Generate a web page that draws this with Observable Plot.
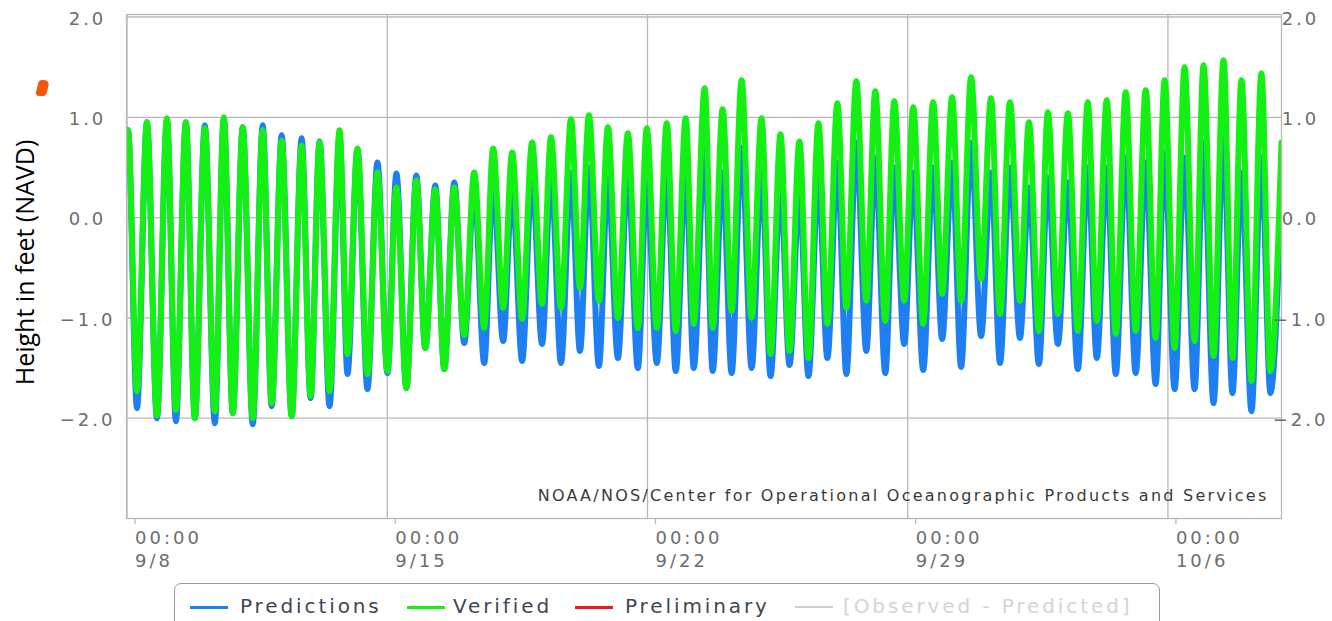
<!DOCTYPE html>
<html><head><meta charset="utf-8">
<script src="https://cdn.jsdelivr.net/npm/d3@7"></script>
<script src="https://cdn.jsdelivr.net/npm/@observablehq/plot@0.6"></script>
<style>
body{margin:0;background:#fff;width:1332px;height:621px;overflow:hidden;position:relative;font-family:"DejaVu Sans",sans-serif;}
#chart{position:absolute;left:0;top:0;}
#legend{position:absolute;left:174px;top:583px;width:986px;height:60px;border:1.5px solid #9a9a9a;border-radius:7px;box-sizing:border-box;background:#fff;}
.item{position:absolute;top:10px;font-size:20px;letter-spacing:2.9px;color:#3d4853;line-height:24px;white-space:nowrap;}
.sw{position:absolute;top:22px;height:3px;width:38px;}
#blob{position:absolute;left:37px;top:80px;width:11px;height:16px;background:#f2580c;border-radius:3px 6px 3px 4px;transform:skewX(-14deg);}
</style></head><body>
<div id="chart"></div>
<div id="blob"></div>
<div id="legend">
  <div class="sw" style="left:15px;background:#1e7ff2"></div><div class="item" style="left:65px">Predictions</div>
  <div class="sw" style="left:232px;background:#14f014"></div><div class="item" style="left:278px">Verified</div>
  <div class="sw" style="left:400px;background:#f01818"></div><div class="item" style="left:450px">Preliminary</div>
  <div class="sw" style="left:620px;background:#cfcfcf;height:2px"></div><div class="item" style="left:668px;color:#d4d4d4">[Observed - Predicted]</div>
</div>
<script>
// ---- data (heights in feet, NAVD) ----
const highTimes = ["9/8 00:39","9/8 12:53","9/9 01:46","9/9 14:00","9/10 02:14","9/10 14:29","9/11 02:43","9/11 15:36","9/12 03:50","9/12 16:43","9/13 04:19","9/13 17:12","9/14 04:47","9/14 17:40","9/15 05:55","9/15 18:47","9/16 07:02","9/16 19:16","9/17 08:09","9/17 20:23","9/18 08:38","9/18 21:31","9/19 09:45","9/19 22:38","9/20 10:14","9/20 22:28","9/21 11:21","9/21 23:35","9/22 12:28","9/23 00:43","9/23 12:57","9/24 00:32","9/24 12:47","9/25 01:40","9/25 13:54","9/26 02:08","9/26 14:23","9/27 02:37","9/27 14:51","9/28 03:05","9/28 15:20","9/29 03:34","9/29 16:27","9/30 04:41","9/30 16:56","10/1 05:49","10/1 18:03","10/2 06:17","10/2 18:31","10/3 07:25","10/3 20:17","10/4 08:32","10/4 20:46","10/5 09:39","10/5 21:53","10/6 10:46","10/6 23:01","10/7 11:53","10/7 23:29","10/8 12:22"];
const lowTimes = ["9/8 06:26","9/8 19:19","9/9 07:34","9/9 19:48","9/10 08:41","9/10 20:17","9/11 09:10","9/11 21:24","9/12 10:17","9/12 22:31","9/13 10:46","9/13 22:21","9/14 11:14","9/15 00:07","9/15 12:21","9/16 00:35","9/16 12:50","9/17 01:43","9/17 14:35","9/18 02:50","9/18 15:04","9/19 03:57","9/19 16:11","9/20 04:26","9/20 16:40","9/21 04:55","9/21 17:47","9/22 06:02","9/22 18:16","9/23 05:52","9/23 18:06","9/24 06:20","9/24 19:13","9/25 07:28","9/25 19:42","9/26 07:56","9/26 20:10","9/27 08:25","9/27 21:17","9/28 09:32","9/28 21:46","9/29 10:01","9/29 22:15","9/30 10:29","9/30 23:22","10/1 11:37","10/2 00:29","10/2 12:44","10/3 00:58","10/3 13:51","10/4 02:05","10/4 14:20","10/5 03:13","10/5 16:05","10/6 04:20","10/6 17:13","10/7 05:27","10/7 17:41","10/8 05:56","10/8 18:10"];
const predHigh = [0.87,0.95,0.97,0.95,0.92,0.98,0.90,0.92,0.82,0.79,
  0.76,0.80,0.68,0.55,0.44,0.42,0.32,0.35,0.30,0.35,
  0.30,0.40,0.43,0.45,0.50,0.40,0.45,0.35,0.50,0.50,
  0.70,0.45,0.70,0.45,0.30,0.25,0.40,0.55,0.75,0.60,
  0.50,0.45,0.50,0.55,0.75,0.45,0.50,0.30,0.40,0.35,
  0.50,0.50,0.60,0.55,0.65,0.60,0.75,0.80,0.45,0.60];
const verHigh = [0.87,0.95,0.99,0.95,0.89,1.00,0.90,0.87,0.77,0.72,
  0.75,0.87,0.69,0.45,0.30,0.37,0.28,0.30,0.45,0.69,
  0.65,0.75,0.80,0.98,1.02,0.90,0.84,0.89,0.94,0.99,
  1.29,1.08,1.37,0.99,0.83,0.76,0.94,1.14,1.36,1.26,
  1.16,1.10,1.15,1.20,1.40,1.19,1.15,0.95,1.05,1.04,
  1.15,1.17,1.25,1.27,1.37,1.50,1.52,1.57,1.37,1.44];
const predLow = [-1.90,-2.00,-2.03,-2.00,-2.05,-1.95,-2.06,-1.88,-1.98,-1.80,
  -1.88,-1.56,-1.71,-1.55,-1.70,-1.30,-1.51,-1.25,-1.45,-1.23,
  -1.43,-1.26,-1.45,-1.33,-1.48,-1.40,-1.50,-1.45,-1.53,-1.50,
  -1.53,-1.55,-1.50,-1.58,-1.47,-1.58,-1.40,-1.56,-1.33,-1.55,
  -1.26,-1.52,-1.21,-1.49,-1.18,-1.45,-1.20,-1.46,-1.26,-1.51,
  -1.40,-1.56,-1.55,-1.66,-1.71,-1.71,-1.85,-1.75,-1.93,-1.75];
const verLow = [-1.73,-1.97,-1.92,-2.00,-1.93,-1.95,-2.00,-1.85,-1.98,-1.78,
  -1.73,-1.36,-1.56,-1.53,-1.70,-1.30,-1.51,-1.17,-1.10,-0.90,
  -1.01,-0.86,-0.90,-0.70,-0.83,-1.00,-1.10,-1.10,-1.13,-1.06,
  -1.10,-0.93,-1.00,-1.36,-1.33,-1.40,-1.06,-0.90,-0.83,-1.03,
  -0.83,-1.06,-0.76,-0.83,-0.61,-0.96,-0.83,-1.13,-0.96,-1.13,
  -1.03,-1.16,-1.13,-1.20,-1.30,-1.23,-1.38,-1.40,-1.63,-1.53];
const edgeTimes = ["9/7 23:20","10/9 01:20"];
const predEdge = [0.70, 0.35];
const verEdge = [0.70, 0.75];
const xTickDays = ["9/8","9/15","9/22","9/29","10/6"];
const yTicks = [-2, -1, 0, 1, 2];
const xDomain = ["9/7 23:40","10/9 01:20"];
const yDomain = [-3.0, 2.025];
const yLabel = "Height in feet (NAVD)";
const caption = "NOAA/NOS/Center for Operational Oceanographic Products and Services";

const parse = s => d3.utcParse("%Y/%m/%d %H:%M")("2019/" + s);
function build(hi, lo, edge) {
  const pts = [{t: parse(edgeTimes[0]), v: edge[0]}];
  for (let i = 0; i < highTimes.length; i++) {
    pts.push({t: parse(highTimes[i]), v: hi[i]});
    pts.push({t: parse(lowTimes[i]), v: lo[i]});
  }
  pts.push({t: parse(edgeTimes[1]), v: edge[1]});
  return pts;
}
const pred = build(predHigh, predLow, predEdge);
const ver = build(verHigh, verLow, verEdge);
const xTicks = xTickDays.map(d => parse(d + " 00:00"));
const fmtDay = d3.utcFormat("%-m/%-d");
const grid = "#b8b8b8";

const chart = Plot.plot({
  width: 1332, height: 580,
  marginLeft: 126, marginRight: 51, marginTop: 14, marginBottom: 62,
  x: {type: "utc", domain: xDomain.map(parse)},
  y: {domain: yDomain},
  style: {fontFamily: "DejaVu Sans", fontSize: "18px", color: "#6d6d6d", background: "white", letterSpacing: "3px"},
  marks: [
    Plot.gridY(yTicks, {stroke: grid, strokeOpacity: 1, strokeWidth: 1.3}),
    Plot.gridX(xTicks, {stroke: grid, strokeOpacity: 1, strokeWidth: 1.3}),
    Plot.line(pred, {x: "t", y: "v", stroke: "#1e7ff2", strokeWidth: 6, curve: "monotone-x", clip: true}),
    Plot.line(ver, {x: "t", y: "v", stroke: "#14f014", strokeWidth: 6, curve: "monotone-x", clip: true}),
    Plot.frame({stroke: grid, strokeWidth: 1.3}),
    Plot.axisX(xTicks, {anchor: "bottom", tickSize: 6, tickPadding: 2, stroke: grid, strokeWidth: 1.3,
      textAnchor: "start", dx: 8, lineHeight: 1.33, label: null,
      tickFormat: d => "00:00\n" + fmtDay(d)}),
    Plot.axisY(yTicks, {anchor: "left", tickSize: 0, tickPadding: 39, textAnchor: "middle", dy: 2, tickFormat: d3.format(".1f"), label: null}),
    Plot.axisY(yTicks, {anchor: "right", tickSize: 0, tickPadding: 19, textAnchor: "middle", dy: 2, tickFormat: d3.format(".1f"), label: null}),
    Plot.text([caption], {frameAnchor: "bottom-right", dx: -13, dy: -18, textAnchor: "end", fontSize: 16, fill: "#3a3a3a"}),
    Plot.text([yLabel], {frameAnchor: "left", dx: -101, dy: -4, rotate: -90, textAnchor: "middle", fontSize: 25, fill: "#000", fontFamily: "Open Sans"})
  ]
});
d3.select(chart).selectAll("text").each(function() {
  const t = this.textContent;
  if (t === caption) d3.select(this).style("letter-spacing", "2.25px");
  if (t === yLabel) d3.select(this).style("letter-spacing", "0px");
});
document.getElementById("chart").appendChild(chart);
</script>
</body></html>
